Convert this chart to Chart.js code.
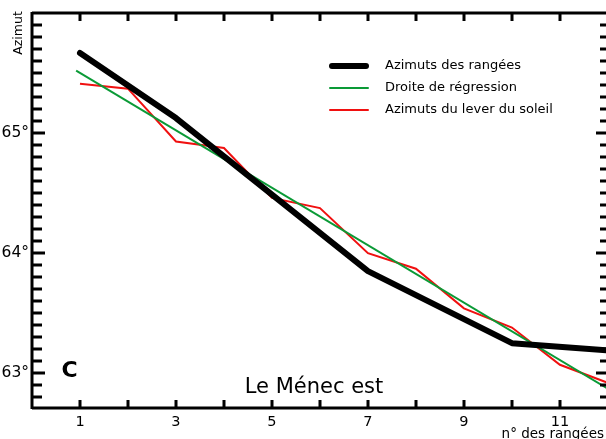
<!DOCTYPE html>
<html>
<head>
<meta charset="utf-8">
<script src="https://cdn.jsdelivr.net/npm/chart.js@4"></script>
<style>
  html, body { margin: 0; padding: 0; background: #fff; }
  #wrap { width: 606px; height: 439px; }
</style>
</head>
<body>
<div id="wrap"><canvas id="chart"></canvas></div>
<script>
// rangées (x) et azimuts (y)
const rowX = [1, 3, 7, 10, 12]
const rowAz = [65.667, 65.125, 63.85, 63.25, 63.19]

const regX = [0.92, 12]
const regAz = [65.52, 62.87]

const sunX = [1, 2, 3, 4, 5, 6, 7, 8, 9, 10, 11, 12]
const sunAz = [65.41, 65.37, 64.93, 64.875, 64.46, 64.375, 64.0, 63.87, 63.54, 63.38, 63.07, 62.92]

const xTickLabels = [1, 3, 5, 7, 9, 11]
const yTickLabels = [63, 64, 65]

const labels = ['Azimuts des rangées', 'Droite de régression', 'Azimuts du lever du soleil']
const colors = ['#000000', '#0a9a36', '#f01010']
const widths = [6, 2, 2]

const toPts = (xs, ys) => xs.map((x, i) => ({ x: x, y: ys[i] }))

const FONT = '"DejaVu Sans", Verdana, sans-serif'

// axes, ticks intérieurs, textes et légende
const decor = {
  id: 'decor',
  afterDraw(chart) {
    const ctx = chart.ctx
    const a = chart.chartArea
    const xs = chart.scales.x
    const ys = chart.scales.y
    ctx.save()
    ctx.strokeStyle = '#000'
    ctx.fillStyle = '#000'
    ctx.lineWidth = 3

    // cadre
    ctx.beginPath()
    ctx.moveTo(a.left, a.top)
    ctx.lineTo(a.right + 2, a.top)
    ctx.moveTo(a.left, a.top - 1)
    ctx.lineTo(a.left, a.bottom + 1)
    ctx.moveTo(a.left, a.bottom)
    ctx.lineTo(a.right + 2, a.bottom)
    ctx.stroke()

    // ticks x
    ctx.beginPath()
    for (let v = 1; v <= 11; v++) {
      const px = Math.round(xs.getPixelForValue(v))
      ctx.moveTo(px, a.bottom)
      ctx.lineTo(px, a.bottom - 8)
      ctx.moveTo(px, a.top)
      ctx.lineTo(px, a.top + 8)
    }
    // ticks y (0.1°)
    for (let k = 628; k <= 659; k++) {
      const v = k / 10
      const py = Math.round(ys.getPixelForValue(v))
      const major = k % 10 === 0
      ctx.moveTo(a.left, py)
      ctx.lineTo(a.left + (major ? 13 : 10), py)
      ctx.moveTo(a.right + 2, py)
      ctx.lineTo(a.right - (major ? 10 : 6), py)
    }
    ctx.stroke()

    // libellés
    ctx.font = '15.5px ' + FONT
    ctx.textAlign = 'right'
    ctx.textBaseline = 'middle'
    yTickLabels.forEach(v => {
      ctx.fillText(v + '°', 29, ys.getPixelForValue(v))
    })
    ctx.font = '14.5px ' + FONT
    ctx.textAlign = 'center'
    ctx.textBaseline = 'middle'
    xTickLabels.forEach(v => {
      ctx.fillText(String(v), xs.getPixelForValue(v), 422)
    })

    ctx.font = '13.5px ' + FONT
    ctx.textAlign = 'right'
    ctx.fillText('n° des rangées', 604, 434)

    ctx.save()
    ctx.translate(19, 33)
    ctx.rotate(-Math.PI / 2)
    ctx.font = '12.5px ' + FONT
    ctx.textAlign = 'center'
    ctx.textBaseline = 'middle'
    ctx.fillText('Azimut', 0, 0)
    ctx.restore()

    ctx.font = 'bold 22px ' + FONT
    ctx.textAlign = 'center'
    ctx.textBaseline = 'middle'
    ctx.fillText('C', 69.5, 371)

    ctx.font = '21px ' + FONT
    ctx.textBaseline = 'alphabetic'
    ctx.fillText('Le Ménec est', 314, 393)

    // légende
    ctx.textAlign = 'left'
    ctx.textBaseline = 'middle'
    ctx.font = '13px ' + FONT
    ctx.lineCap = 'round'
    labels.forEach((t, i) => {
      const y = 66 + i * 22
      ctx.strokeStyle = colors[i]
      ctx.lineWidth = widths[i]
      ctx.beginPath()
      ctx.moveTo(i === 0 ? 332 : 330, y)
      ctx.lineTo(i === 0 ? 366 : 368, y)
      ctx.stroke()
      ctx.fillStyle = '#000'
      ctx.fillText(t, 385, y)
    })
    ctx.restore()
  }
}

new Chart(document.getElementById('chart'), {
  type: 'line',
  data: {
    datasets: [
      { label: labels[0], data: toPts(rowX, rowAz), borderColor: colors[0], borderWidth: widths[0], pointRadius: 0, borderJoinStyle: 'round', borderCapStyle: 'round' },
      { label: labels[1], data: toPts(regX, regAz), borderColor: colors[1], borderWidth: widths[1], pointRadius: 0 },
      { label: labels[2], data: toPts(sunX, sunAz), borderColor: colors[2], borderWidth: widths[2], pointRadius: 0 }
    ]
  },
  plugins: [decor],
  options: {
    responsive: true,
    maintainAspectRatio: false,
    animation: false,
    layout: { padding: { left: 32, right: 0, top: 13, bottom: 31 } },
    plugins: { legend: { display: false }, tooltip: { enabled: false } },
    scales: {
      x: { type: 'linear', min: 0, max: 11.96, display: false },
      y: { type: 'linear', min: 62.71, max: 66.0, display: false }
    }
  }
})
</script>
</body>
</html>
